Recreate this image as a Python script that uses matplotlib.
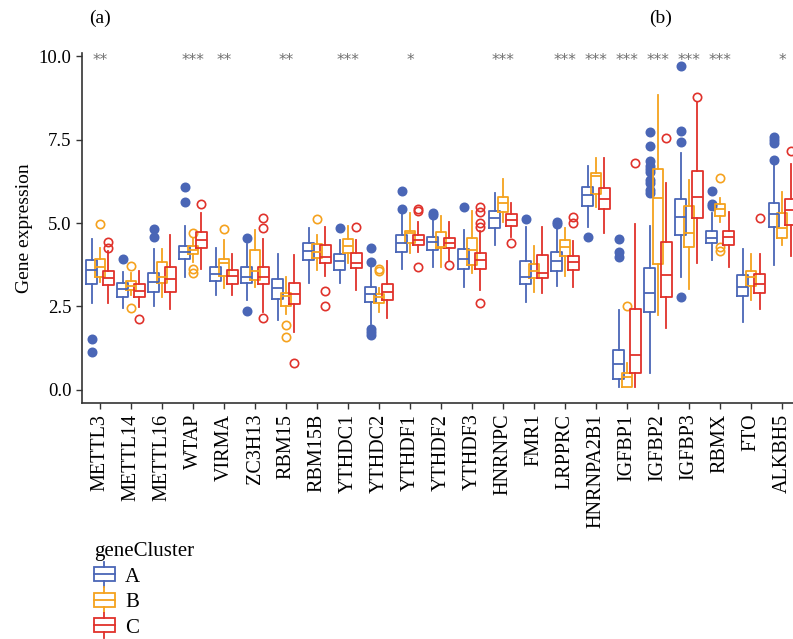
import numpy as np
import matplotlib
matplotlib.use("Agg")
import matplotlib.pyplot as plt
from matplotlib.legend_handler import HandlerBase
from matplotlib.patches import Rectangle
from matplotlib.lines import Line2D

plt.rcParams['font.family'] = ['Liberation Serif', 'DejaVu Serif']

genes = ["METTL3", "METTL14", "METTL16", "WTAP", "VIRMA", "ZC3H13", "RBM15",
         "RBM15B", "YTHDC1", "YTHDC2", "YTHDF1", "YTHDF2", "YTHDF3", "HNRNPC",
         "FMR1", "LRPPRC", "HNRNPA2B1", "IGFBP1", "IGFBP2", "IGFBP3", "RBMX",
         "FTO", "ALKBH5"]
stars = ["**", "", "", "***", "**", "", "**", "", "***", "", "*", "", "",
         "***", "", "***", "***", "***", "***", "***", "***", "", "*"]

# whisker low, q1, median, q3, whisker high
stats_a = [[2.61, 3.17, 3.59, 3.88, 4.51], [2.44, 2.79, 3.02, 3.19, 3.52],
           [2.51, 2.94, 3.24, 3.51, 4.22], [3.37, 3.91, 4.14, 4.32, 4.91],
           [2.84, 3.27, 3.47, 3.67, 4.24], [2.69, 3.19, 3.37, 3.67, 4.37],
           [2.09, 2.72, 3.04, 3.32, 4.07], [3.19, 3.89, 4.17, 4.39, 4.84],
           [3.19, 3.59, 3.87, 4.06, 4.49], [1.99, 2.64, 2.86, 3.07, 3.69],
           [3.61, 4.13, 4.39, 4.63, 5.29], [3.69, 4.19, 4.44, 4.59, 5.14],
           [3.09, 3.61, 3.92, 4.21, 4.79], [4.34, 4.84, 5.14, 5.36, 5.89],
           [2.64, 3.16, 3.39, 3.87, 4.89], [3.11, 3.57, 3.87, 4.12, 4.94],
           [4.89, 5.51, 5.84, 6.09, 6.71], [0.08, 0.34, 0.79, 1.21, 2.39],
           [0.52, 2.32, 2.91, 3.66, 4.91], [3.37, 4.64, 5.17, 5.71, 7.09],
           [3.89, 4.39, 4.54, 4.77, 5.29], [2.04, 2.81, 3.09, 3.44, 4.21],
           [3.74, 4.87, 5.27, 5.61, 6.74]]
out_a = [[1.54, 1.14], [3.91], [4.81, 4.57], [6.07, 5.62], [], [4.54, 2.37],
         [], [], [4.84], [4.24, 3.84, 1.84, 1.74, 1.64], [5.97, 5.41],
         [5.31, 5.24], [5.47], [], [5.11], [5.03, 4.97], [4.59],
         [4.52, 4.12, 3.99],
         [7.74, 7.31, 6.87, 6.71, 6.61, 6.54, 6.29, 6.19, 5.99, 5.89],
         [9.71, 7.77, 7.44, 2.79], [5.96, 5.56, 5.51], [],
         [7.57, 7.49, 7.39, 6.89]]

stats_b = [[3.24, 3.39, 3.69, 3.92, 4.24], [2.84, 2.99, 3.11, 3.27, 3.49],
           [2.77, 3.21, 3.39, 3.84, 4.21], [3.84, 4.07, 4.19, 4.31, 4.54],
           [3.04, 3.41, 3.79, 3.91, 4.49], [3.07, 3.29, 3.56, 4.19, 4.79],
           [2.26, 2.52, 2.81, 2.89, 3.39], [3.59, 3.96, 4.12, 4.37, 4.64],
           [3.79, 4.09, 4.31, 4.51, 4.91], [2.34, 2.59, 2.79, 2.87, 3.04],
           [4.09, 4.39, 4.71, 4.77, 5.29], [3.69, 4.24, 4.27, 4.72, 5.21],
           [3.51, 3.74, 4.19, 4.54, 5.36], [5.04, 5.34, 5.59, 5.77, 6.31],
           [2.94, 3.34, 3.57, 3.77, 4.31], [3.41, 4.01, 4.29, 4.49, 4.84],
           [5.49, 5.86, 6.41, 6.51, 6.96], [0.08, 0.08, 0.38, 0.52, 0.81],
           [2.24, 3.77, 5.74, 6.61, 8.84], [3.01, 4.29, 4.71, 5.52, 6.29],
           [5.04, 5.21, 5.42, 5.57, 5.74], [2.69, 3.11, 3.37, 3.57, 4.07],
           [4.34, 4.56, 4.84, 5.29, 5.92]]
out_b = [[4.96], [3.71, 2.44], [], [4.71, 3.61, 3.51], [4.81], [], [1.96, 1.59],
         [5.12], [], [3.61, 3.57], [], [], [], [], [], [], [], [2.51], [], [],
         [6.34, 4.29, 4.16], [], []]

stats_c = [[2.59, 3.14, 3.34, 3.57, 4.17], [2.49, 2.77, 2.96, 3.17, 3.57],
           [2.41, 2.92, 3.31, 3.67, 4.64], [3.62, 4.26, 4.49, 4.72, 5.29],
           [2.84, 3.17, 3.42, 3.59, 4.07], [2.34, 3.16, 3.39, 3.69, 4.51],
           [1.74, 2.57, 2.86, 3.19, 4.04], [3.41, 3.79, 3.97, 4.35, 4.89],
           [2.99, 3.64, 3.79, 4.09, 4.49], [2.17, 2.69, 2.94, 3.16, 3.86],
           [4.14, 4.34, 4.49, 4.63, 5.04], [3.89, 4.24, 4.39, 4.56, 5.04],
           [2.99, 3.62, 3.89, 4.11, 4.77], [4.59, 4.91, 5.09, 5.26, 5.61],
           [2.91, 3.34, 3.51, 4.04, 4.89], [3.09, 3.59, 3.84, 4.01, 4.46],
           [4.71, 5.42, 5.71, 6.06, 6.96], [0.08, 0.52, 1.04, 2.41, 4.97],
           [1.87, 2.79, 3.44, 4.44, 6.21], [3.81, 5.14, 5.77, 6.57, 8.64],
           [3.69, 4.34, 4.57, 4.76, 5.34], [2.41, 2.91, 3.16, 3.47, 4.06],
           [4.02, 4.94, 5.39, 5.72, 6.76]]
out_c = [[4.44, 4.24], [2.12], [], [5.56], [], [5.16, 4.84, 2.16], [0.81],
         [2.97, 2.52], [4.87], [], [5.41, 5.37, 3.69], [3.73],
         [5.47, 5.34, 5.01, 4.89, 2.59], [4.41], [], [5.17, 4.99], [],
         [6.79], [7.54], [8.77], [], [5.14], [7.16]]

clusters = ["A", "B", "C"]
colors = ["#4a66b6", "#f5a21e", "#e0322b"]
filled = [True, False, False]


class BoxHandler(HandlerBase):
    def create_artists(self, legend, orig_handle, xdescent, ydescent,
                       width, height, fontsize, trans):
        c = orig_handle.get_color()
        x0, y0 = -xdescent, -ydescent
        xm = x0 + width / 2
        rect = Rectangle((x0, y0), width, height, facecolor="none",
                         edgecolor=c, lw=1.3, transform=trans)
        med = Line2D([x0, x0 + width], [y0 + height / 2] * 2, color=c,
                     lw=1.3, transform=trans)
        top = Line2D([xm, xm], [y0 + height, y0 + height * 1.4], color=c,
                     lw=1.3, transform=trans)
        bot = Line2D([xm, xm], [y0 - height * 0.4, y0], color=c,
                     lw=1.3, transform=trans)
        return [rect, med, top, bot]


fig = plt.figure(figsize=(7.93, 6.39), dpi=100)
ax = fig.add_axes([0.1034, 0.369, 0.8966, 0.548])

x = np.arange(len(genes))
offsets = [-0.27, 0.0, 0.27]
all_stats = [(stats_a, out_a), (stats_b, out_b), (stats_c, out_c)]
for k, (rows, outs) in enumerate(all_stats):
    c = colors[k]
    bstats = [dict(whislo=r[0], q1=r[1], med=r[2], q3=r[3], whishi=r[4],
                   fliers=o) for r, o in zip(rows, outs)]
    ax.bxp(bstats, positions=x + offsets[k], widths=0.34, showcaps=False,
           manage_ticks=False,
           boxprops=dict(color=c, lw=1.3),
           whiskerprops=dict(color=c, lw=1.3),
           medianprops=dict(color=c, lw=1.3),
           flierprops=dict(marker="o", markersize=6,
                           markerfacecolor=c if filled[k] else "none",
                           markeredgecolor=c, markeredgewidth=1.2))

for xi, s in zip(x, stars):
    if s:
        ax.text(xi, 9.88, s, ha="center", va="center", fontsize=11,
                color="#707070", family="DejaVu Sans")

ax.set_xlim(-0.58, 22.35)
ax.set_ylim(-0.4, 10.1)
ax.set_xticks(x)
ax.set_xticklabels(genes, rotation=90, fontsize=14.5)
ax.set_yticks([0, 2.5, 5, 7.5, 10])
ax.set_yticklabels(["0.0", "2.5", "5.0", "7.5", "10.0"], fontsize=13.5)
ax.tick_params(length=4, width=1, color="#333333")
ax.set_ylabel("Gene expression", fontsize=14)
ax.spines["top"].set_visible(False)
ax.spines["right"].set_visible(False)
for sp in ["left", "bottom"]:
    ax.spines[sp].set_linewidth(1.2)
    ax.spines[sp].set_color("#333333")

handles = [Line2D([], [], color=c) for c in colors]
fig.legend(handles, clusters, title="geneCluster", loc="upper left",
           bbox_to_anchor=(94 / 793, 1 - 542 / 639), frameon=False,
           fontsize=15, title_fontsize=15, alignment="left",
           borderpad=0, borderaxespad=0, handlelength=1.0,
           handleheight=0.65, handletextpad=0.5, labelspacing=0.3,
           handler_map={Line2D: BoxHandler()})

fig.text(100 / 793, 1 - 18 / 639, "(a)", ha="center", va="center",
         fontsize=14)
fig.text(661 / 793, 1 - 18 / 639, "(b)", ha="center", va="center",
         fontsize=14)

fig.savefig("out.png", dpi=100)
